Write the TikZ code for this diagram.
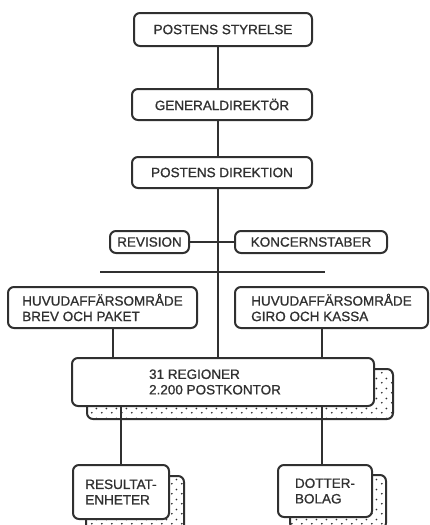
\documentclass[tikz,border=0pt]{standalone}
\usepackage{fontspec}
\setmainfont{Liberation Sans}
\newfontfamily\boxfont{Liberation Sans}[FakeBold=0.9]
\usetikzlibrary{patterns,backgrounds}
\pgfdeclarepatternformonly{sparsedots}{\pgfpointorigin}{\pgfpoint{10pt}{10pt}}{\pgfpoint{10pt}{10pt}}{%
  \pgfpathcircle{\pgfpoint{2pt}{2.5pt}}{1pt}%
  \pgfpathcircle{\pgfpoint{7pt}{7pt}}{1pt}%
  \pgfusepath{fill}}
\definecolor{ink}{HTML}{303030}
\begin{document}
\begin{tikzpicture}[x=1pt,y=-1pt,
  orgbox/.style={draw=ink, line width=2pt, rounded corners=6pt, fill=white, text=ink,
    font=\boxfont\fontsize{13.5}{15.5}\selectfont, align=left, inner sep=0pt},
  shadowbox/.style={draw=ink, line width=2pt, rounded corners=6pt, pattern=sparsedots, pattern color=ink},
  link/.style={draw=ink, line width=2pt}]
\path[use as bounding box, clip] (0,0) rectangle (429,525);

\coordinate (spine) at (218,0);
\coordinate (xb) at (113,0);
\coordinate (xg) at (322,0);

\node[orgbox, minimum width=178pt, minimum height=33pt] (sty) at (223,29.5) {POSTENS STYRELSE};
\node[orgbox, minimum width=180pt, minimum height=31pt] (gd) at (222,104.5) {GENERALDIREKTÖR};
\node[orgbox, minimum width=180pt, minimum height=31pt] (dir) at (222,172.5) {POSTENS DIREKTION};
\node[orgbox, minimum width=79pt, minimum height=22pt] (rev) at (149.5,242) {REVISION};
\node[orgbox, minimum width=152pt, minimum height=22pt] (kon) at (311,242) {KONCERNSTABER};
\node[orgbox, minimum width=189pt, minimum height=41pt] (brev) at (102.5,307.5) {HUVUDAFFÄRSOMRÅDE\\BREV OCH PAKET};
\node[orgbox, minimum width=193pt, minimum height=41pt] (giro) at (331.5,307.5) {HUVUDAFFÄRSOMRÅDE\\GIRO OCH KASSA};
\node[orgbox, minimum width=302pt, minimum height=48pt] (reg) at (223,382) {31 REGIONER\\2.200 POSTKONTOR\hspace*{16pt}};
\node[orgbox, minimum width=96pt, minimum height=54pt] (res) at (121,492) {RESULTAT-\\ENHETER};
\node[orgbox, minimum width=94pt, minimum height=52pt] (dot) at (325,491) {DOTTER-\\BOLAG};

\begin{scope}[on background layer]
  \draw[shadowbox] ([shift={(16,12)}]reg.north west) rectangle ([shift={(18,12)}]reg.south east);
  \draw[shadowbox] ([shift={(14,12)}]res.north west) rectangle ([shift={(14,12)}]res.south east);
  \draw[shadowbox] ([shift={(13,11)}]dot.north west) rectangle ([shift={(13,11)}]dot.south east);
\end{scope}

\draw[link] (sty.south -| spine) -- (gd.north -| spine);
\draw[link] (gd.south -| spine) -- (dir.north -| spine);
\draw[link] (dir.south -| spine) -- (reg.north -| spine);
\draw[link] (rev.east) -- (kon.west);
\coordinate (barL) at (100,272);
\coordinate (barR) at (325,272);
\draw[link] (barL) -- (barR);
\draw[link] (brev.south -| xb) -- (reg.north -| xb);
\draw[link] (giro.south -| xg) -- (reg.north -| xg);
\draw[link] (reg.south -| res.north) -- (res.north);
\draw[link] (reg.south -| xg) -- (dot.north -| xg);
\end{tikzpicture}
\end{document}
